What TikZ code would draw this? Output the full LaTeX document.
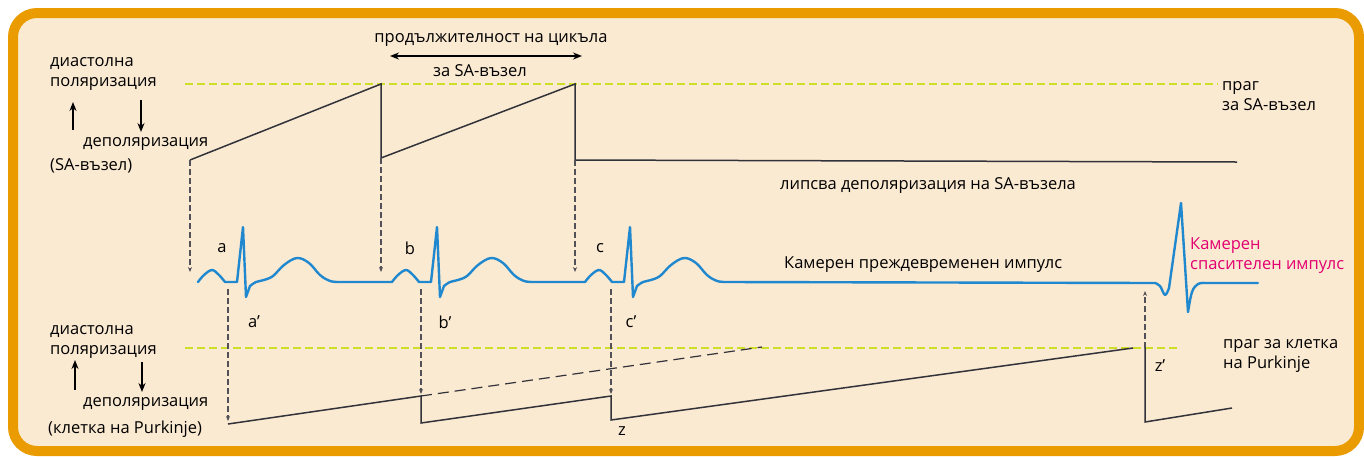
\documentclass[tikz,border=0pt]{standalone}
\usepackage{fontspec}
\setmainfont{Open Sans}
\usepackage{xcolor}
\usetikzlibrary{positioning,arrows.meta}

\definecolor{frameorange}{RGB}{233,155,0}
\definecolor{paper}{RGB}{251,234,210}
\definecolor{ecgblue}{RGB}{32,136,206}
\definecolor{threshyellow}{RGB}{205,222,40}
\definecolor{escapepink}{RGB}{226,0,112}
\definecolor{tracegray}{RGB}{50,50,58}

\tikzset{
  lbl/.style={font=\fontsize{16.5}{20}\selectfont, inner sep=0pt, align=left, text=black},
  trace/.style={tracegray, line width=1.5pt, line join=miter},
  ecg/.style={ecgblue, line width=2.4pt, line join=round, line cap=round},
  thresh/.style={threshyellow, line width=1.2pt, dash pattern=on 8pt off 4pt},
  dropline/.style={tracegray!85, line width=1.1pt, dash pattern=on 6pt off 3pt, -{Stealth[length=5pt,width=4pt]}},
  bigarrow/.style={black, line width=1.5pt, -{Stealth[length=9pt,width=7pt]}}
}

\begin{document}
\begin{tikzpicture}[x=1pt, y=-1pt]
\useasboundingbox (0,0) rectangle (1364,456);
\fill[white] (0,0) rectangle (1364,456);
\draw[frameorange, line width=10pt, fill=paper, rounded corners=24pt] (13,13) rectangle (1359,451);

% thresholds
\coordinate (thrA0) at (185,84);  \coordinate (thrA1) at (1218,84);
\coordinate (thrB0) at (185,348); \coordinate (thrB1) at (1180,348);
\draw[thresh] (thrA0) -- (thrA1);
\draw[thresh] (thrB0) -- (thrB1);

% SA node
\coordinate (sa0) at (190,160);
\coordinate (sa1top) at (381,84);  \coordinate (sa1) at (381,158);
\coordinate (sa2top) at (575,84);  \coordinate (sa2) at (575,160);
\coordinate (saend) at (1237,162);
\draw[trace] (sa0) -- (sa1top) -- (sa1) -- (sa2top) -- (sa2) -- (saend);

% Purkinje cell
\coordinate (pk0) at (228,424);
\coordinate (pk1top) at (421,396); \coordinate (pk1) at (421,423);
\coordinate (pk2top) at (611,396); \coordinate (pk2) at (611,420);
\coordinate (pk3top) at (1133,348);
\coordinate (pkfire) at (1145,348); \coordinate (pk3) at (1145,422);
\coordinate (pkend) at (1232,408);
\coordinate (pkghost) at (762,347);
\draw[trace] (pk0) -- (pk1top) -- (pk1) -- (pk2top) -- (pk2) -- (pk3top);
\draw[trace] (pkfire) -- (pk3) -- (pkend);
\draw[trace, line width=1.2pt, dash pattern=on 11pt off 6pt] (pk1top) -- (pkghost);

% ECG
\draw[ecg] (198,282)
  \foreach \o in {0,194,387} {
    -- plot[smooth,tension=.6] coordinates {({198+\o},282) ({204+\o},275) ({212+\o},270) ({219+\o},275) ({225+\o},282)}
    -- ({237+\o},282) -- ({243+\o},227) -- ({246+\o},297) -- ({250+\o},286)
    -- plot[smooth,tension=.6] coordinates {({250+\o},286) ({256+\o},282) ({264+\o},280) ({273+\o},276) ({284+\o},265) ({297+\o},258) ({309+\o},263) ({320+\o},275) ({330+\o},281) ({340+\o},282)}
  }
  -- (1155,283)
  -- plot[smooth,tension=.6] coordinates {(1155,283) (1160,286) (1165,295) (1169,288)}
  -- (1181,203) -- (1188,312)
  -- plot[smooth,tension=.6] coordinates {(1188,312) (1192,292) (1198,284) (1206,283)}
  -- (1258,283);

% drop lines SA -> ECG
\coordinate (ecgA) at (190,272); \coordinate (ecgB) at (381,272); \coordinate (ecgC) at (575,272);
\draw[dropline] (sa0) -- (ecgA);
\draw[dropline] (sa1) -- (ecgB);
\draw[dropline] (sa2) -- (ecgC);

% drop lines ECG -> Purkinje
\coordinate (qa) at (228,289); \coordinate (qb) at (421,289); \coordinate (qc) at (611,289);
\coordinate (pka) at (228,421); \coordinate (pkb) at (421,394); \coordinate (pkc) at (611,394);
\draw[dropline] (qa) -- (pka);
\draw[dropline] (qb) -- (pkb);
\draw[dropline] (qc) -- (pkc);
\coordinate (qz) at (1145,291);
\draw[dropline] (pkfire) -- (qz);

% cycle length
\node[lbl] (cycle) at (491,40) {продължителност на цикъла};
\node[lbl] (cyclesa) at (480,71) {за SA-възел};
\coordinate (cyc0) at (390,56); \coordinate (cyc1) at (582,56);
\draw[bigarrow, {Stealth[length=9pt,width=7pt]}-{Stealth[length=9pt,width=7pt]}] (cyc0) -- (cyc1);

% left labels, SA node
\node[lbl, anchor=north west] (diasA) at (50,57) {диастолна\\поляризация};
\node[lbl, anchor=west] (depolA) at (83,144) {деполяризация};
\node[lbl, anchor=west] (sanode) at (50,166) {(SA-възел)};
\coordinate (upA0) at (73,130); \coordinate (upA1) at (73,102);
\coordinate (dnA0) at (141,100); \coordinate (dnA1) at (141,132);
\draw[bigarrow] (upA0) -- (upA1);
\draw[bigarrow] (dnA0) -- (dnA1);

% left labels, Purkinje
\node[lbl, anchor=north west] (diasB) at (50,325) {диастолна\\поляризация};
\node[lbl, anchor=west] (depolB) at (83,404) {деполяризация};
\node[lbl, anchor=west] (purk) at (48,429) {(клетка на Purkinje)};
\coordinate (upB0) at (75,390); \coordinate (upB1) at (75,360);
\coordinate (dnB0) at (142,362); \coordinate (dnB1) at (142,392);
\draw[bigarrow] (upB0) -- (upB1);
\draw[bigarrow] (dnB0) -- (dnB1);

% right labels
\node[lbl, anchor=north west] (thrA) at (1222,81) {праг\\за SA-възел};
\node[lbl, anchor=west] (nosa) at (780,186) {липсва деполяризация на SA-възела};
\node[lbl, anchor=north west] (thrB) at (1223,339) {праг за клетка\\на Purkinje};

% ECG labels
\node[lbl] (pa) at (222,248) {a};
\node[lbl] (pb) at (410,248) {b};
\node[lbl] (pc) at (600,248) {c};
\node[lbl] (qrsa) at (254,322) {a’};
\node[lbl] (qrsb) at (445,322) {b’};
\node[lbl] (qrsc) at (631,322) {c’};
\node[lbl, anchor=west] (prem) at (784,265) {Камерен преждевременен импулс};
\node[lbl, anchor=north west, text=escapepink] (escape) at (1190,238) {Камерен\\спасителен импулс};
\node[lbl] (zz) at (622,431) {z};
\node[lbl] (zfire) at (1160,366) {z’};
\end{tikzpicture}
\end{document}
